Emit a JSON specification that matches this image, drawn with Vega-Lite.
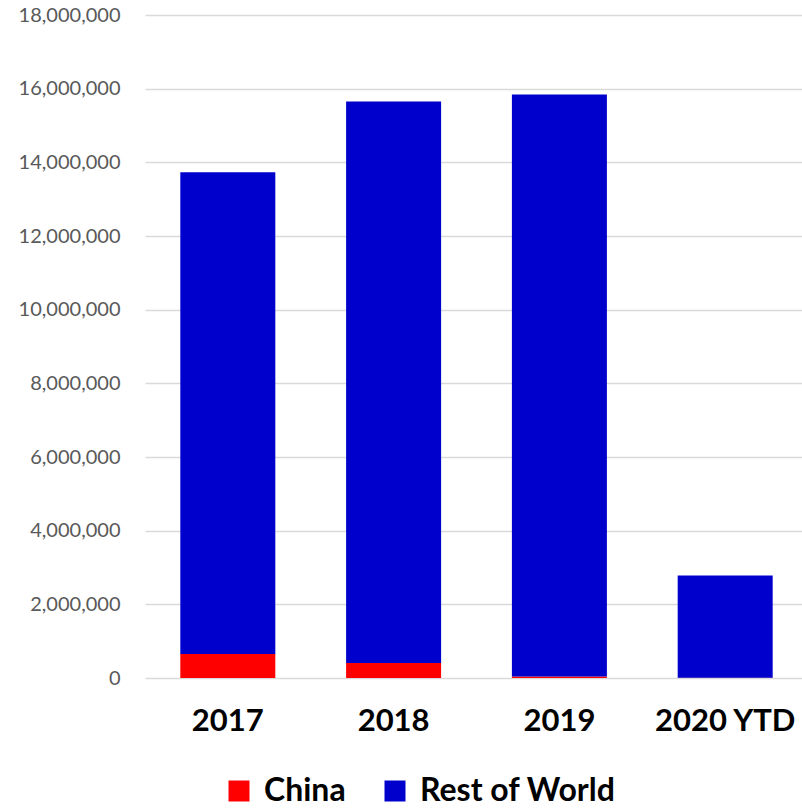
{
  "$schema": "https://vega.github.io/schema/vega-lite/v6.json",
  "autosize": "none",
  "width": 663,
  "height": 663,
  "padding": {"left": 145, "top": 15, "right": 0, "bottom": 131},
  "background": "white",
  "data": {
    "values": [
      {"year": "2017", "series": "China", "units": 650000},
      {"year": "2017", "series": "Rest of World", "units": 13080000},
      {"year": "2018", "series": "China", "units": 410000},
      {"year": "2018", "series": "Rest of World", "units": 15240000},
      {"year": "2019", "series": "China", "units": 40000},
      {"year": "2019", "series": "Rest of World", "units": 15800000},
      {"year": "2020 YTD", "series": "China", "units": 5000},
      {"year": "2020 YTD", "series": "Rest of World", "units": 2780000}
    ]
  },
  "mark": {"type": "bar"},
  "encoding": {
    "x": {
      "field": "year",
      "type": "nominal",
      "sort": null,
      "scale": {"paddingInner": 0.427, "paddingOuter": 0.213},
      "axis": {
        "title": null,
        "labelAngle": 0,
        "domain": false,
        "ticks": false,
        "labelFont": "Lato",
        "labelFontWeight": "bold",
        "labelFontSize": 31,
        "labelColor": "#000000",
        "labelPadding": 28
      }
    },
    "y": {
      "field": "units",
      "type": "quantitative",
      "stack": "zero",
      "scale": {"domain": [0, 18000000], "nice": false},
      "axis": {
        "title": null,
        "values": [0, 2000000, 4000000, 6000000, 8000000, 10000000, 12000000, 14000000, 16000000, 18000000],
        "format": ",d",
        "domain": false,
        "ticks": false,
        "gridColor": "#d9d9d9",
        "gridWidth": 1.5,
        "labelFont": "Lato",
        "labelFontSize": 20,
        "labelColor": "#595959",
        "labelPadding": 25
      }
    },
    "color": {
      "field": "series",
      "type": "nominal",
      "scale": {"domain": ["China", "Rest of World"], "range": ["#ff0000", "#0000cc"]},
      "legend": {
        "title": null,
        "orient": "none",
        "direction": "horizontal",
        "legendX": 78,
        "legendY": 760,
        "symbolType": "square",
        "symbolSize": 441,
        "symbolStrokeWidth": 0,
        "labelFont": "Lato",
        "labelFontWeight": "bold",
        "labelFontSize": 32,
        "labelColor": "#000000",
        "labelOffset": 9,
        "labelLimit": 400,
        "columnPadding": 33
      }
    },
    "order": {"field": "series", "sort": "ascending"}
  },
  "config": {"view": {"stroke": null}}
}
